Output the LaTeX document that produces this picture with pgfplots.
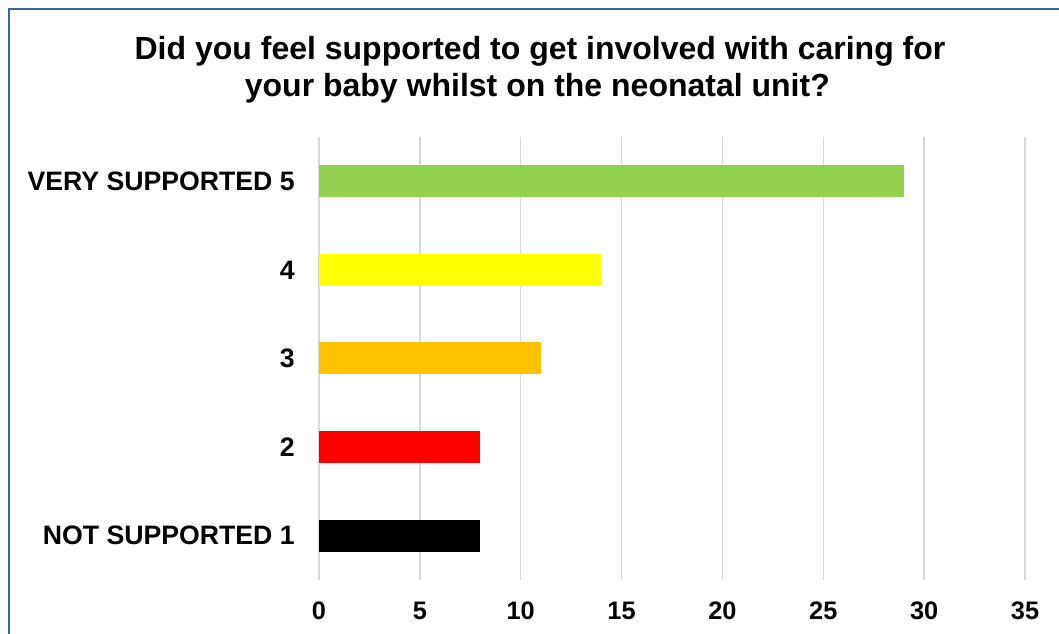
\documentclass[border=0pt]{standalone}
\usepackage{pgfplots}
\pgfplotsset{compat=1.18}
\usepackage{fontspec}
\setmainfont{Liberation Sans}
\definecolor{frameblue}{RGB}{59,96,168}
\definecolor{gridgray}{RGB}{217,217,217}
\definecolor{cgreen}{RGB}{146,208,80}
\definecolor{cyellow}{RGB}{255,255,0}
\definecolor{corange}{RGB}{255,192,0}
\definecolor{cred}{RGB}{255,0,0}
\begin{document}
\begin{tikzpicture}
\useasboundingbox (0,0) rectangle (794.25pt,475.5pt);
\begin{scope}
\clip (0,0) rectangle (794.25pt,475.5pt);
\fill[white] (0,0) rectangle (794.25pt,475.5pt);
\draw[frameblue, line width=1.2pt] (6.75pt,-20pt) -- (6.75pt,468.75pt) -- (820pt,468.75pt);
\end{scope}
\node[anchor=base, inner sep=0pt, font=\fontsize{24}{28}\selectfont\bfseries] at (405pt,431pt)
  {Did you feel supported to get involved with caring for};
\node[anchor=base, inner sep=0pt, font=\fontsize{24}{28}\selectfont\bfseries] at (403pt,403pt)
  {your baby whilst on the neonatal unit?};
\begin{axis}[
  at={(239.25pt,40.5pt)}, anchor=south west,
  scale only axis, width=529.5pt, height=332.25pt,
  xmin=0, xmax=35, ymin=0.5, ymax=5.5,
  xtick={0,5,...,35}, ytick={1,2,3,4,5},
  yticklabels={NOT SUPPORTED 1,2,3,4,VERY SUPPORTED 5},
  axis line style={draw=none},
  major tick length=0pt,
  xmajorgrids, grid style={gridgray, line width=1.1pt},
  /pgf/number format/assume math mode=true,
  tick label style={inner sep=0pt},
  xticklabel style={font=\fontsize{19}{22}\selectfont\bfseries, anchor=base, yshift=-30pt},
  yticklabel style={font=\fontsize{20}{22}\selectfont\bfseries, anchor=east, xshift=-18pt},
  xbar, bar width=24pt, bar shift=0pt,
  clip=false,
]
\addplot[fill=black, draw=none] coordinates {(8,1)};
\addplot[fill=cred, draw=none] coordinates {(8,2)};
\addplot[fill=corange, draw=none] coordinates {(11,3)};
\addplot[fill=cyellow, draw=none] coordinates {(14,4)};
\addplot[fill=cgreen, draw=none] coordinates {(29,5)};
\end{axis}
\end{tikzpicture}
\end{document}
